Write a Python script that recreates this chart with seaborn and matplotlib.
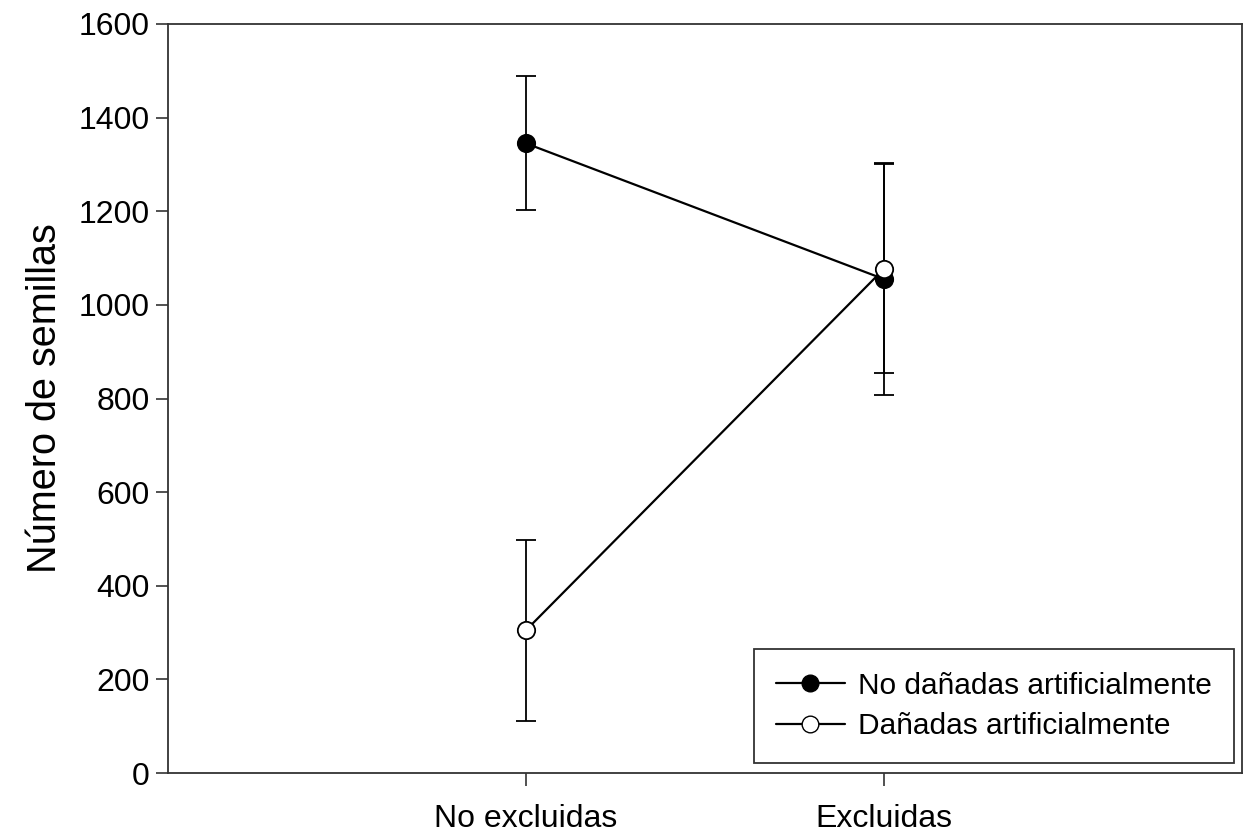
import pandas as pd
import matplotlib
matplotlib.use("Agg")
import matplotlib.pyplot as plt
import seaborn as sns
from matplotlib.lines import Line2D

# ====================== data ======================

grupos = ["No excluidas", "Excluidas"]
series = ["No dañadas artificialmente", "Dañadas artificialmente"]
media_no_danadas = [1345, 1055]
err_no_danadas = [143, 247]
media_danadas = [305, 1077]
err_danadas = [193, 223]

df = pd.DataFrame({
    "grupo": grupos * 2,
    "pos": [0, 1] * 2,
    "serie": [series[0]] * 2 + [series[1]] * 2,
    "media": media_no_danadas + media_danadas,
    "err": err_no_danadas + err_danadas,
})

# ====================== plot ======================

sns.set_style("ticks")
plt.rcParams['font.family'] = ['Liberation Sans', 'DejaVu Sans']

fig = plt.figure(figsize=(12.46, 8.33), dpi=100)
ax = fig.add_axes([0.1348, 0.072, 0.862, 0.8992])

facecolors = {series[0]: "black", series[1]: "white"}

for s in series:
    d = df[df["serie"] == s]
    ax.errorbar(d["pos"], d["media"], yerr=d["err"], fmt="none",
                ecolor="black", elinewidth=1.3, capsize=7, capthick=1.3, zorder=2)

sns.lineplot(data=df, x="pos", y="media", hue="serie", hue_order=series,
             palette=["black", "black"], linewidth=1.6, legend=False, ax=ax, zorder=3)

for s in series:
    d = df[df["serie"] == s]
    ax.plot(d["pos"], d["media"], linestyle="none", marker="o", markersize=12.5,
            markerfacecolor=facecolors[s], markeredgecolor="black",
            markeredgewidth=1.3, zorder=4)

ax.set_xlim(-1, 2)
ax.set_ylim(0, 1600)
ax.set_xticks([0, 1])
ax.set_xticklabels(grupos)
ax.set_yticks(range(0, 1601, 200))
ax.set_xlabel("")
ax.set_ylabel("Número de semillas", fontsize=28.5, labelpad=11, color="black")
ax.tick_params(axis="both", labelsize=23, length=9, width=1.2, direction="out",
               color="#333333", labelcolor="black")
ax.tick_params(axis="y", pad=4)
ax.tick_params(axis="x", pad=13.5)
for sp in ax.spines.values():
    sp.set_visible(True)
    sp.set_linewidth(1.3)
    sp.set_color("#333333")

handles = [
    Line2D([], [], color="black", linewidth=1.6, marker="o", markersize=12,
           markerfacecolor=facecolors[s], markeredgecolor="black")
    for s in series
]
leg = ax.legend(handles, series, loc="lower right", bbox_to_anchor=(0.9985, 0.006),
                fontsize=21.5, frameon=True, fancybox=False, handlelength=2.3,
                borderpad=0.75, labelspacing=0.42, handletextpad=0.45,
                borderaxespad=0.2)
leg.get_frame().set_edgecolor("black")
leg.get_frame().set_linewidth(1.3)
for t in leg.get_texts():
    t.set_color("black")

fig.savefig("out.png", dpi=100)
